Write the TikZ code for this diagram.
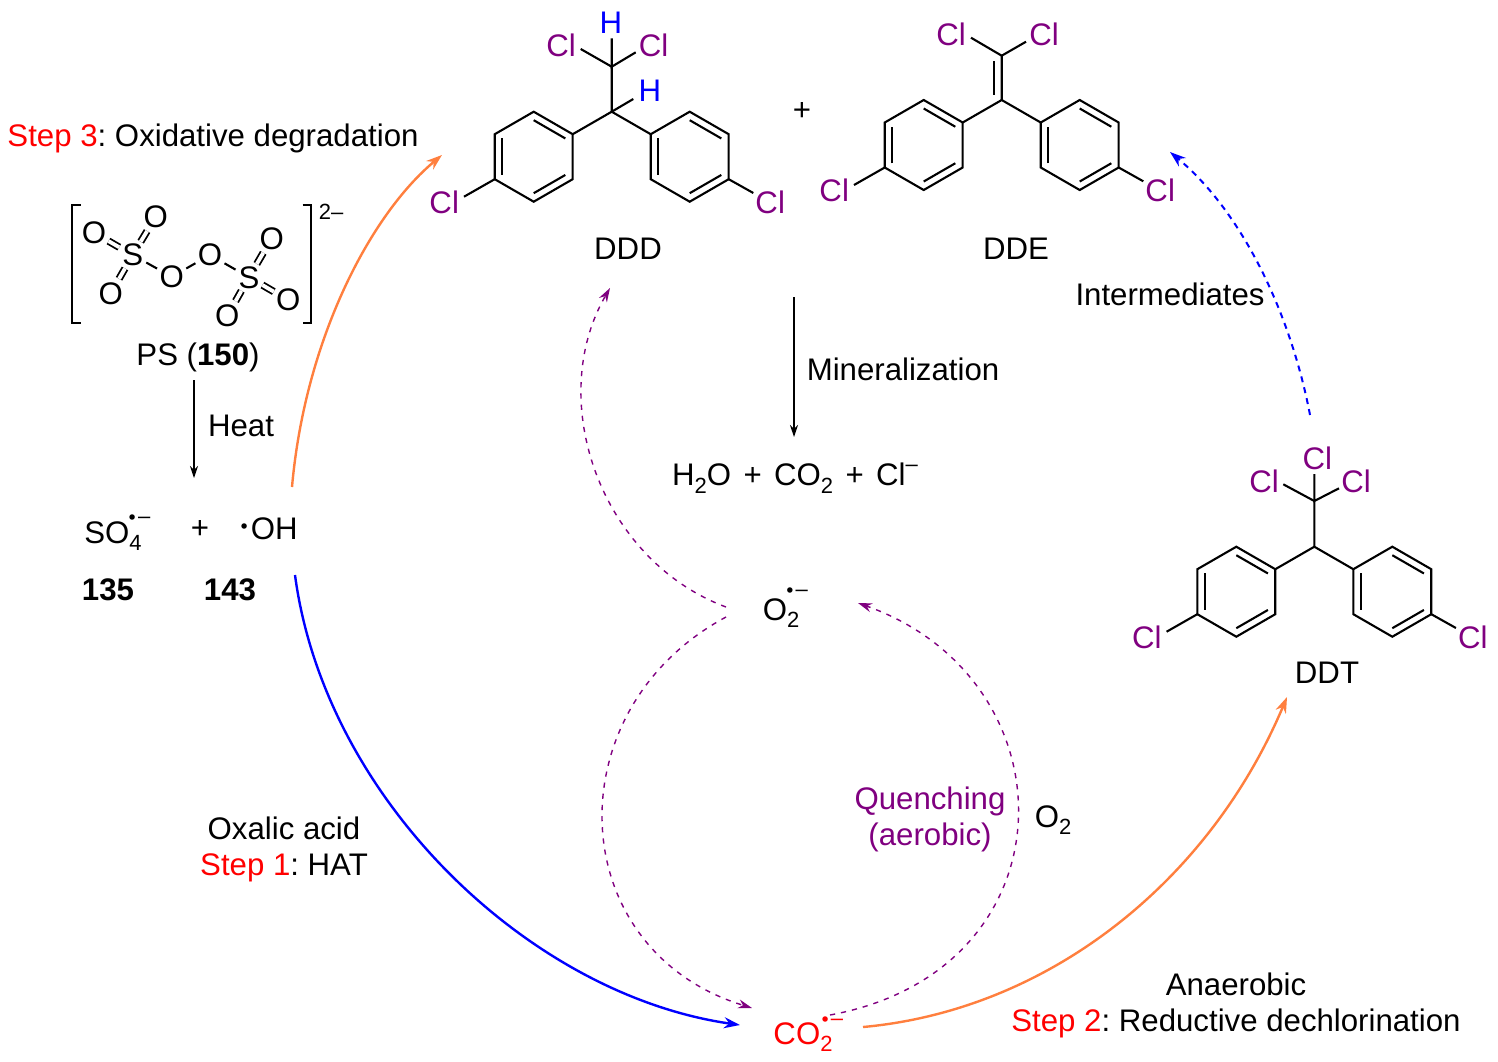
\documentclass[tikz,border=0pt]{standalone}
\usepackage{fontspec}
\setmainfont{Liberation Sans}
\usetikzlibrary{arrows.meta}
\definecolor{clpurple}{RGB}{128,0,128}
\definecolor{arrorange}{RGB}{255,127,62}
\frenchspacing
\newcommand{\ssz}{\fontsize{11}{13}\selectfont}
\newcommand{\lowd}[1]{\raisebox{-.45ex}{\ssz #1}}
\newcommand{\highd}[1]{\raisebox{.85ex}{\ssz #1}}
\newcommand{\raddot}{{\fontsize{6}{6}\selectfont$\bullet$}}
\newcommand{\radsub}[3]{\smash{\rlap{\hspace{#3}\raisebox{#2}{\raddot}\hspace{1pt}\raisebox{\dimexpr#2-1.5pt}{\ssz --}}}\lowd{#1}}
\tikzset{
  bond/.style={line width=1.05pt},
  dbond/.style={line width=.9pt,double,double distance=1.9pt},
  atom/.style={circle,inner sep=0pt},
  cl/.style={text=clpurple,inner sep=0pt},
  hyd/.style={text=blue,inner sep=0pt},
  lab/.style={inner sep=0pt,align=center},
  rxn/.style={line width=.6pt,-{Stealth[length=6pt,width=4pt]}},
  thick orange/.style={line width=1.2pt,arrorange,-{Stealth[length=8pt,width=5.5pt]}},
  thick blue/.style={line width=1.2pt,blue,-{Stealth[length=8pt,width=5.5pt]}},
  blue dash/.style={line width=1pt,blue,dash pattern=on 3pt off 2.6pt,-{Stealth[length=8pt,width=5.5pt]}},
  purple dash/.style={line width=.7pt,clpurple,dash pattern=on 2.6pt off 3pt,-{Stealth[length=7pt,width=4.5pt]}},
  diaryl/.pic={
    \foreach \cx in {-78,78} {
      \begin{scope}[shift={(\cx,45)}]
        \draw[bond] (30:45) -- (90:45) -- (150:45) -- (210:45) -- (270:45) -- (330:45) -- cycle;
        \foreach \a/\b in {270/330,150/210,30/90} \draw[bond] (\a:36.5) -- (\b:36.5);
      \end{scope}
    }
    \coordinate (c) at (0,0);
    \draw[bond] (-39,22.5) -- (c) -- (39,22.5);
    \draw[bond] (-117,67.5) -- (-147.7,85);
    \draw[bond] (117,67.5) -- (141.6,81.3);
    \node[cl] (cll) at (-167.5,90.5) {Cl};
    \node[cl] (clr) at (158.5,90.5) {Cl};
  },
}
\begin{document}
\begin{tikzpicture}[x=.5pt,y=-.5pt,font=\fontsize{15.6}{18}\selectfont]
  \useasboundingbox (0,0) rectangle (1498,1061);

  \pic (ddd) at (611.7,111.7) {diaryl};
  \draw[bond] (dddc) -- (611.7,66.7) -- (580.7,49);
  \draw[bond] (611.7,38.3) -- (611.7,66.7) -- (635.7,52.3);
  \draw[bond] (dddc) -- (633.3,99);
  \node[cl] (dddcla) at (561,45) {Cl};
  \node[cl] (dddclb) at (653.5,45) {Cl};
  \node[hyd] (dddha) at (611,23) {H};
  \node[hyd] (dddhb) at (650,91) {H};
  \node[lab] (dddlab) at (628,249) {DDD};

  \node[lab] (plusb) at (802,111) {+};

  \pic (dde) at (1001.7,100) {diaryl};
  \draw[bond] (ddec) -- (1001.7,55.7) -- (971,37.7);
  \draw[bond] (1001.7,55.7) -- (1026,41.7);
  \draw[bond] (994,61) -- (994,95);
  \node[cl] (ddecla) at (951,34) {Cl};
  \node[cl] (ddeclb) at (1044,34) {Cl};
  \node[lab] (ddelab) at (1016,249) {DDE};

  \pic (ddt) at (1314.3,546.7) {diaryl};
  \draw[bond] (ddtc) -- (1314.3,501) -- (1283.3,484.3);
  \draw[bond] (1314.3,474) -- (1314.3,501) -- (1339,488.3);
  \node[cl] (ddtcla) at (1317.3,458.3) {Cl};
  \node[cl] (ddtclb) at (1264,481) {Cl};
  \node[cl] (ddtclc) at (1356,481) {Cl};
  \node[lab] (ddtlab) at (1327,673) {DDT};

  \node[atom] (oa) at (94,232.7) {O};
  \node[atom] (ob) at (155.7,216.7) {O};
  \node[atom] (sa) at (132.7,255) {S};
  \node[atom] (oc) at (110.7,293.3) {O};
  \node[atom] (od) at (171.7,276.7) {O};
  \node[atom] (oe) at (210,255) {O};
  \node[atom] (sb) at (249,277.3) {S};
  \node[atom] (of) at (271.7,238.3) {O};
  \node[atom] (og) at (288.3,300) {O};
  \node[atom] (oh) at (227.3,315.7) {O};
  \draw[dbond] (sa) -- (oa);
  \draw[dbond] (sa) -- (ob);
  \draw[dbond] (sa) -- (oc);
  \draw[bond] (sa) -- (od);
  \draw[bond] (od) -- (oe);
  \draw[bond] (oe) -- (sb);
  \draw[dbond] (sb) -- (of);
  \draw[dbond] (sb) -- (og);
  \draw[dbond] (sb) -- (oh);
  \draw[bond] (80.7,205) -- (72,205) -- (72,323.3) -- (80.7,323.3);
  \draw[bond] (302.7,205) -- (310.7,205) -- (310.7,323.3) -- (302.7,323.3);
  \node[lab,font=\ssz] (charge) at (331,212) {2--};

  \node[lab] (stepc) at (213,138) {\textcolor{red}{Step 3}: Oxidative degradation};
  \node[lab] (pslab) at (198,357) {PS (\textbf{150})};
  \node[lab] (heat) at (241,426) {Heat};
  \node[lab] (sulf) at (113,536) {SO\radsub{4}{11.5pt}{-.5pt}};
  \node[lab] (plusa) at (200,529) {+};
  \node[lab] (hydrox) at (269,529) {\raisebox{5pt}{\raddot}\hspace{1.5pt}OH};
  \node[lab] (numa) at (108,590) {\textbf{135}};
  \node[lab] (numb) at (230,590) {\textbf{143}};
  \node[lab] (water) at (795,478) {H\lowd{2}O\hspace{6.2pt}+\hspace{6.2pt}CO\lowd{2}\hspace{6.2pt}+\hspace{6.2pt}Cl\highd{--}};
  \node[lab] (miner) at (903,369) {Mineralization};
  \node[lab] (interm) at (1170,294) {Intermediates};
  \node[lab] (superox) at (781,613) {O\radsub{2}{13.5pt}{-.5pt}};
  \node[lab,text=clpurple] (quench) at (930,819) {Quenching\\(aerobic)};
  \node[lab] (oxy) at (1053,820) {O\lowd{2}};
  \node[lab] (stepa) at (284,849) {Oxalic acid\\\textcolor{red}{Step 1}: HAT};
  \node[lab,text=red] (carb) at (803,1037) {CO\radsub{2}{11pt}{.5pt}};
  \node[lab] (stepb) at (1236,1005) {Anaerobic\\\textcolor{red}{Step 2}: Reductive dechlorination};

  \draw[rxn] ([shift={(-4,23)}]pslab.center) -- ([shift={(-6,-51)}]plusa.center);
  \draw[rxn] ([shift={(-8,186)}]plusb.center) -- ([shift={(-1,-41)}]water.center);
  \draw[thick orange] ([shift={(23,-42)}]hydrox.center) .. controls (305,340) and (370,215) .. ([shift={(-2.2,-47.2)}]dddcll.center);
  \draw[thick blue] ([shift={(26,46)}]hydrox.center) .. controls (325,800) and (530,995) .. ([shift={(-63,-12)}]carb.center);
  \draw[thick orange] ([shift={(60,-10)}]carb.center) .. controls (1050,1010) and (1210,880) .. ([shift={(-40,24)}]ddtlab.center);
  \draw[blue dash] ([shift={(-7.3,-43.3)}]ddtcla.center) .. controls (1290,310) and (1240,210) .. ([shift={(9.8,-38.5)}]ddeclr.center);
  \draw[purple dash] ([shift={(-55,-6)}]superox.center) .. controls (600,560) and (545,400) .. ([shift={(-18,39)}]dddlab.center);
  \draw[purple dash] ([shift={(-55,4)}]superox.center) .. controls (553,710) and (563,950) .. ([shift={(-51,-29)}]carb.center);
  \draw[purple dash] ([shift={(27,-22)}]carb.center) .. controls (1075,970) and (1075,680) .. ([shift={(77,-10)}]superox.center);
\end{tikzpicture}
\end{document}
